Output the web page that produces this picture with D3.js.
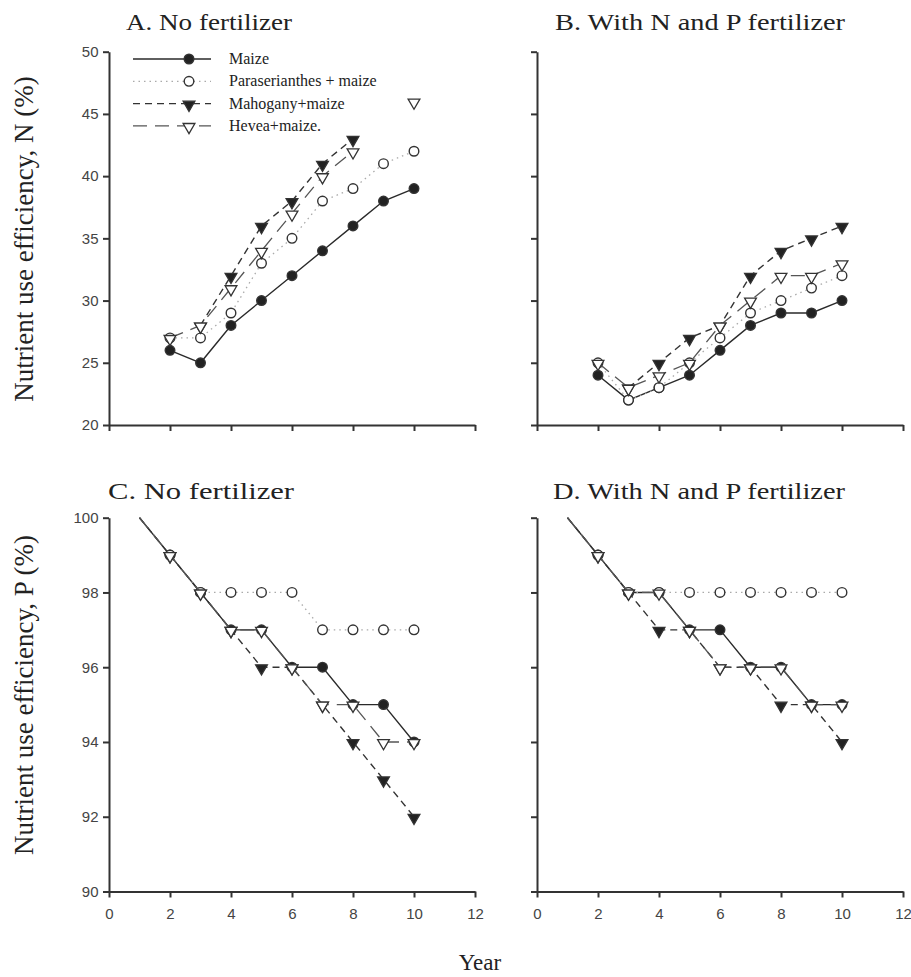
<!DOCTYPE html>
<html><head><meta charset="utf-8">
<script src="https://cdn.jsdelivr.net/npm/d3@7"></script>
<style>body{margin:0;background:#fff}</style>
</head><body>
<script>
// ---- data ----
const yearsTop = [2,3,4,5,6,7,8,9,10];
const yearsBottom = [1,2,3,4,5,6,7,8,9,10];
const seriesNames = ["Maize","Paraserianthes + maize","Mahogany+maize","Hevea+maize."];
const xTicks = [0,2,4,6,8,10,12];
const yTicksN = [20,25,30,35,40,45,50];
const yTicksP = [90,92,94,96,98,100];

const aMaize = [26,25,28,30,32,34,36,38,39];
const aParaserianthes = [27,27,29,33,35,38,39,41,42];
const aMahogany = [null,28,32,36,38,41,43,null,null];
const aHevea = [27,28,31,34,37,40,42,null,46];

const bMaize = [24,22,23,24,26,28,29,29,30];
const bParaserianthes = [25,22,23,25,27,29,30,31,32];
const bMahogany = [null,23,25,27,28,32,34,35,36];
const bHevea = [25,23,24,25,28,30,32,32,33];

const cMaize = [100,99,98,97,97,96,96,95,95,94];
const cParaserianthes = [100,99,98,98,98,98,97,97,97,97];
const cMahogany = [100,99,98,97,96,96,95,94,93,92];
const cHevea = [100,99,98,97,97,96,95,95,94,94];

const dMaize = [100,99,98,98,97,97,96,96,95,95];
const dParaserianthes = [100,99,98,98,98,98,98,98,98,98];
const dMahogany = [100,99,98,97,97,96,96,95,95,94];
const dHevea = [100,99,98,98,97,96,96,96,95,95];

const firstMarkedYear = 2;

// ---- styles ----
const styles = [
  {stroke:"#2a2a2a", dash:null, width:1.4, marker:"circle", fill:"#222"},
  {stroke:"#aaa", dash:"1.5,4", width:1.3, marker:"circle", fill:"#fff"},
  {stroke:"#333", dash:"7,5", width:1.4, marker:"tri", fill:"#222"},
  {stroke:"#555", dash:"14,8", width:1.3, marker:"tri", fill:"#fff"}
];

const W = 911, H = 977;
const svg = d3.select("body").append("svg").attr("width",W).attr("height",H)
  .style("font-family","'Liberation Serif','Times New Roman',serif");

const panels = [
  {title:"A. No fertilizer", years:yearsTop, data:[aMaize,aParaserianthes,aMahogany,aHevea],
   l:109,r:475,t:51.7,b:425, dom:[20,50], yt:yTicksN, ylab:true, xlab:false, tx:126, ty:30, tw:166},
  {title:"B. With N and P fertilizer", years:yearsTop, data:[bMaize,bParaserianthes,bMahogany,bHevea],
   l:537,r:903,t:51.7,b:425, dom:[20,50], yt:yTicksN, ylab:false, xlab:false, tx:555, ty:30, tw:290},
  {title:"C. No fertilizer", years:yearsBottom, data:[cMaize,cParaserianthes,cMahogany,cHevea],
   l:109,r:475,t:517.7,b:891.5, dom:[90,100], yt:yTicksP, ylab:true, xlab:true, tx:108, ty:499, tw:186},
  {title:"D. With N and P fertilizer", years:yearsBottom, data:[dMaize,dParaserianthes,dMahogany,dHevea],
   l:537,r:903,t:517.7,b:891.5, dom:[90,100], yt:yTicksP, ylab:false, xlab:true, tx:553, ty:499, tw:292}
];

const triPath = d3.symbol().type(d3.symbolTriangle).size(60)();

panels.forEach(p => {
  const x = d3.scaleLinear().domain([0,12]).range([p.l,p.r]);
  const y = d3.scaleLinear().domain(p.dom).range([p.b,p.t]);
  const g = svg.append("g");

  const ax = d3.axisBottom(x).tickValues(xTicks).tickSize(6).tickSizeOuter(0)
    .tickFormat(p.xlab ? d3.format("d") : "");
  const gx = g.append("g").attr("transform",`translate(0,${p.b})`).call(ax);
  const ay = d3.axisLeft(y).tickValues(p.yt).tickSize(6).tickSizeOuter(0)
    .tickFormat(p.ylab ? d3.format("d") : "");
  const gy = g.append("g").attr("transform",`translate(${p.l},0)`).call(ay);
  [gx,gy].forEach(a=>{
    a.selectAll("path,line").attr("stroke","#333").attr("stroke-width",2);
    a.selectAll("text").attr("font-family","'Liberation Sans',Arial,sans-serif")
      .attr("font-size",15).attr("fill","#444");
  });
  gx.selectAll("text").attr("dy","1.25em");
  gy.selectAll("text").attr("dx","-0.1em");

  g.append("text").attr("x",p.tx).attr("y",p.ty).attr("font-size",24).attr("fill","#222")
    .attr("textLength", p.tw).attr("lengthAdjust","spacingAndGlyphs").text(p.title);

  p.data.forEach((vals,si) => {
    const st = styles[si];
    const pts = p.years.map((yr,i)=>({yr, v:vals[i]}));
    const line = d3.line().defined(d=>d.v!=null).x(d=>x(d.yr)).y(d=>y(d.v));
    g.append("path").attr("d",line(pts)).attr("fill","none")
      .attr("stroke",st.stroke).attr("stroke-width",st.width)
      .attr("stroke-dasharray",st.dash);
    const mk = pts.filter(d=>d.v!=null && d.yr>=firstMarkedYear);
    drawMarkers(g, mk.map(d=>[x(d.yr),y(d.v)]), st);
  });

  if (p.title.startsWith("A")) {
    const lg = g.append("g");
    seriesNames.forEach((name,i)=>{
      const st = styles[i];
      const ly = 59 + i*22.3;
      lg.append("line").attr("x1",133).attr("x2",211).attr("y1",ly).attr("y2",ly)
        .attr("stroke",st.stroke).attr("stroke-width",st.width).attr("stroke-dasharray",st.dash);
      drawMarkers(lg, [[189,ly]], st);
      lg.append("text").attr("x",229).attr("y",ly+5).attr("font-size",16)
        .attr("fill","#222").text(name);
    });
  }
});

function drawMarkers(g, coords, st){
  coords.forEach(([cx,cy])=>{
    if (st.marker==="circle") {
      g.append("circle").attr("cx",cx).attr("cy",cy).attr("r",4.8)
        .attr("fill",st.fill).attr("stroke","#333").attr("stroke-width",1.4);
    } else {
      g.append("path").attr("d",triPath)
        .attr("transform",`translate(${cx},${cy+1}) rotate(180)`)
        .attr("fill",st.fill).attr("stroke","#333").attr("stroke-width",1.3);
    }
  });
}

svg.append("text").attr("transform","translate(33,239) rotate(-90)").attr("text-anchor","middle")
  .attr("font-size",27).attr("fill","#222").text("Nutrient use efficiency, N (%)");
svg.append("text").attr("transform","translate(33,695) rotate(-90)").attr("text-anchor","middle")
  .attr("font-size",27).attr("fill","#222").text("Nutrient use efficiency, P (%)");
svg.append("text").attr("x",480).attr("y",970).attr("text-anchor","middle")
  .attr("font-size",23).attr("fill","#222").text("Year");
</script>
</body></html>
